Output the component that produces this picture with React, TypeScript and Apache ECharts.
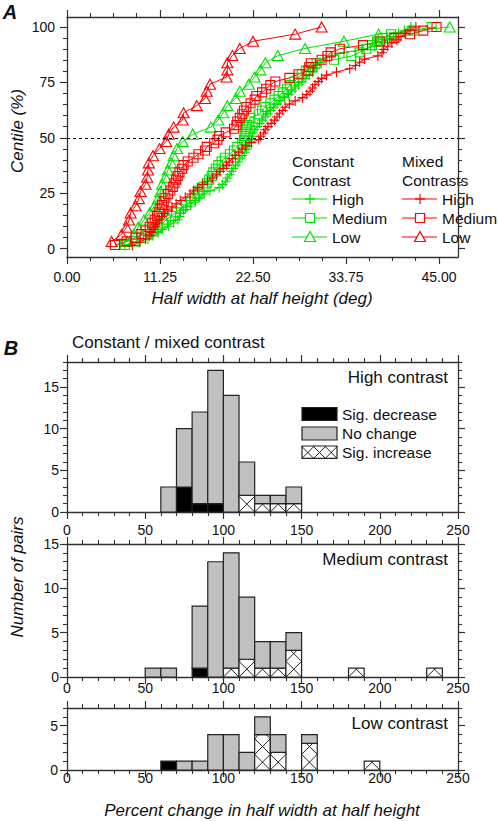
import React, { useEffect, useRef } from 'react';
import * as echarts from 'echarts';

// ---------- Panel A: half width at half height (deg), sorted, one value per cell ----------
const constantHighWidths = [
  7.0, 8.6, 9.8, 10.4, 11.0, 11.5, 12.3, 12.9, 13.4, 13.6,
  13.7, 14.1, 14.5, 15.0, 15.5, 16.0, 16.6, 17.3, 18.4, 18.8,
  19.2, 19.4, 19.7, 19.9, 20.1, 20.4, 20.7, 20.9, 21.2, 21.5,
  21.7, 21.9, 22.1, 22.3, 22.4, 22.5, 22.7, 23.0, 23.3, 23.6,
  24.0, 24.3, 24.6, 25.0, 25.4, 25.8, 26.3, 26.8, 27.2, 27.6,
  28.0, 28.4, 28.8, 29.3, 29.7, 30.0, 30.2, 30.6, 31.0, 32.0,
  33.5, 35.8, 37.2, 38.2, 38.8, 39.5, 40.1, 40.8, 41.6,
];
const constantMediumWidths = [
  7.0, 8.3, 9.0, 9.8, 10.5, 11.0, 11.6, 12.0, 12.6, 13.2,
  13.8, 14.4, 15.0, 15.4, 15.8, 16.0, 16.5, 16.9, 17.2, 17.5,
  17.7, 18.0, 18.3, 18.7, 19.1, 19.7, 20.2, 20.6, 21.2, 21.4,
  21.5, 21.6, 21.7, 21.8, 22.0, 22.2, 23.2, 23.6, 24.0, 24.6,
  25.1, 25.6, 26.1, 26.6, 27.0, 27.5, 28.0, 28.4, 28.9, 29.7,
  30.2, 32.3, 34.4, 35.4, 36.2, 36.9, 37.5, 38.2, 39.2, 41.8, 44.1,
];
const constantLowWidths = [
  7.3, 8.1, 8.6, 9.3, 10.0, 10.6, 11.0, 11.3, 11.5, 11.9,
  12.2, 12.6, 12.9, 13.3, 14.0, 15.2, 17.4, 18.3, 18.9, 19.4,
  20.4, 20.9, 22.0, 22.7, 23.4, 24.0, 25.5, 28.8, 33.5, 37.7, 46.3,
];
const mixedHighWidths = [
  7.9, 8.8, 9.5, 10.0, 10.2, 10.4, 10.7, 10.9, 11.2, 11.5,
  11.8, 12.2, 12.7, 13.2, 13.7, 14.3, 14.9, 15.3, 15.8, 16.4,
  17.0, 17.6, 18.1, 18.5, 18.9, 19.3, 19.6, 20.0, 20.4, 20.8,
  21.2, 21.6, 22.3, 23.2, 23.4, 23.8, 24.0, 24.3, 24.7, 25.1,
  25.4, 25.7, 26.1, 26.4, 26.9, 27.6, 28.5, 29.0, 29.4, 29.7,
  30.0, 30.4, 30.8, 31.4, 32.6, 34.2, 34.9, 35.4, 36.0, 37.6,
  38.1, 38.3, 38.8, 39.3, 39.9, 40.4, 40.9, 41.5, 42.2,
];
const mixedMediumWidths = [
  5.8, 7.2, 8.3, 9.0, 9.5, 10.0, 10.3, 10.6, 10.9, 11.1,
  11.3, 11.5, 11.7, 11.9, 12.2, 12.5, 12.8, 13.0, 13.2, 13.4,
  13.6, 13.9, 14.1, 14.6, 15.3, 15.9, 16.7, 16.9, 17.8, 18.2,
  18.4, 19.2, 20.2, 20.5, 20.6, 20.9, 21.2, 21.4, 21.7, 22.2,
  22.7, 22.9, 23.6, 24.1, 24.6, 25.2, 26.9, 28.0, 29.2, 29.3,
  29.5, 30.8, 31.5, 31.9, 33.0, 35.8, 37.9, 39.6, 41.5, 43.1, 44.7,
];
const mixedLowWidths = [
  5.4, 6.6, 7.2, 7.5, 7.7, 8.3, 8.7, 8.9, 9.5, 9.7,
  9.8, 9.9, 10.4, 11.2, 12.0, 12.3, 12.9, 14.0, 14.1, 15.7,
  16.7, 16.9, 17.3, 19.3, 19.4, 19.4, 20.0, 20.9, 22.5, 27.6, 30.8,
];

const xTicksA = [0, 11.25, 22.5, 33.75, 45];
const yTicksA = [0, 25, 50, 75, 100];
const referenceCentile = 50;

// ---------- Panel B: histograms (bin start, totals, sig. decrease, sig. increase) ----------
const BIN = 10;
const highStarts = [60, 70, 80, 90, 100, 110, 120, 130, 140];
const highTotals = [3, 10, 12, 17, 14, 6, 2, 2, 3];
const highDecrease = [0, 3, 1, 1, 0, 0, 0, 0, 0];
const highIncrease = [0, 0, 0, 0, 0, 2, 1, 1, 1];

const mediumStarts = [50, 60, 80, 90, 100, 110, 120, 130, 140, 180, 230];
const mediumTotals = [1, 1, 8, 13, 14, 9, 4, 4, 5, 1, 1];
const mediumDecrease = [0, 0, 1, 0, 0, 0, 0, 0, 0, 0, 0];
const mediumIncrease = [0, 0, 0, 0, 1, 2, 1, 1, 3, 1, 1];

const lowStarts = [60, 70, 80, 90, 100, 110, 120, 130, 150, 190];
const lowTotals = [1, 1, 1, 4, 4, 2, 6, 4, 4, 1];
const lowDecrease = [1, 0, 0, 0, 0, 0, 0, 0, 0, 0];
const lowIncrease = [0, 0, 0, 0, 0, 0, 4, 2, 3, 1];

const xTicksB = [0, 50, 100, 150, 200, 250];
const yTicksB = [0, 5, 10, 15];

// ---------- styling ----------
const FONT = '"Liberation Sans", Arial, Helvetica, sans-serif';
const AXIS = '#333';
const TEXT = '#111';
const GREEN = '#00e000';
const RED = '#ff0000';
const GRAY = '#c0c0c0';
const PLUS = 'path://M0,5L10,5M5,0L5,10';

function minorValues(step: number, max: number, majorEvery: number, min = 0) {
  const out: number[] = [];
  for (let i = Math.ceil(min / step); i * step <= max + 1e-9; i++) {
    if (i % majorEvery !== 0) out.push(+(i * step).toFixed(4));
  }
  return out;
}

function makeAxes(
  dim: 'x' | 'y',
  grid: number,
  min: number,
  max: number,
  major: number[],
  minor: number[],
  margin: number,
  fmt: (v: number) => string
) {
  const base = { type: 'value', gridIndex: grid, min, max, splitLine: { show: false }, silent: true };
  const positions = dim === 'x' ? ['bottom', 'top'] : ['left', 'right'];
  const out: any[] = [];
  positions.forEach((pos, pi) => {
    out.push({
      ...base,
      position: pos,
      axisLine: { show: true, onZero: false, lineStyle: { color: AXIS, width: 1.3 } },
      axisTick: { show: true, inside: false, length: 7, customValues: major, lineStyle: { color: AXIS, width: 1.2 } },
      axisLabel:
        pi === 0
          ? { show: true, customValues: major, margin, formatter: fmt, fontSize: 14, fontFamily: FONT, color: TEXT }
          : { show: false },
    });
    out.push({
      ...base,
      position: pos,
      axisLine: { show: false, onZero: false },
      axisTick: { show: true, inside: false, length: 4, customValues: minor, lineStyle: { color: AXIS, width: 1.1 } },
      axisLabel: { show: false },
    });
  });
  return out;
}

function cdf(widths: number[]) {
  return widths.map((w, i) => [w, ((i + 1) / widths.length) * 100]);
}

function histData(starts: number[], totals: number[], dec: number[], inc: number[]) {
  const d: number[][] = [];
  starts.forEach((s, i) => {
    if (dec[i]) d.push([s, s + BIN, 0, dec[i], 0]);
    if (inc[i]) d.push([s, s + BIN, dec[i], dec[i] + inc[i], 1]);
    if (totals[i] > dec[i] + inc[i]) d.push([s, s + BIN, dec[i] + inc[i], totals[i], 2]);
  });
  return d;
}

function hatch(x: number, y: number, w: number, h: number, p: number) {
  const segs: number[][] = [];
  const yb = y + h;
  for (let c = -Math.ceil(w / p) * p; c <= h + 1e-6; c += p) {
    const u0 = Math.max(0, -c);
    const u1 = Math.min(w, h - c);
    if (u1 - u0 > 0.5) segs.push([x + u0, yb - (u0 + c), x + u1, yb - (u1 + c)]);
  }
  for (let c = 0; c <= w + h + 1e-6; c += p) {
    const u0 = Math.max(0, c - h);
    const u1 = Math.min(w, c);
    if (u1 - u0 > 0.5) segs.push([x + u0, yb - (c - u0), x + u1, yb - (c - u1)]);
  }
  return segs;
}

function renderBar(params: any, api: any) {
  const x0 = api.value(0);
  const x1 = api.value(1);
  const y0 = api.value(2);
  const y1 = api.value(3);
  const kind = api.value(4);
  const p0 = api.coord([x0, y1]);
  const p1 = api.coord([x1, y0]);
  const x = p0[0];
  const y = p0[1];
  const w = p1[0] - p0[0];
  const h = p1[1] - p0[1];
  const children: any[] = [
    {
      type: 'rect',
      shape: { x, y, width: w, height: h },
      style: { fill: kind === 0 ? '#000' : kind === 1 ? '#fff' : GRAY, stroke: '#222', lineWidth: 1.2 },
    },
  ];
  if (kind === 1) {
    hatch(x, y, w, h, w).forEach((s) =>
      children.push({
        type: 'line',
        shape: { x1: s[0], y1: s[1], x2: s[2], y2: s[3] },
        style: { stroke: '#222', lineWidth: 1 },
      })
    );
  }
  return { type: 'group', children };
}

function txt(text: string, x: number, y: number, size: number, align = 'left', extra: any = {}) {
  return {
    type: 'text',
    x,
    y,
    silent: true,
    ...extra,
    style: {
      text,
      fill: TEXT,
      font: `${extra.fontStyle || ''} ${extra.fontWeight || ''} ${size}px ${FONT}`,
      align,
      verticalAlign: 'middle',
      textAlign: align,
      textVerticalAlign: 'middle',
    },
  };
}

function legendItem(kind: 'plus' | 'rect' | 'tri', color: string, x0: number, y: number, label: string) {
  const els: any[] = [];
  const cx = x0 + 18;
  els.push({ type: 'line', shape: { x1: x0, y1: y, x2: x0 + 35, y2: y }, style: { stroke: color, lineWidth: 1 } });
  if (kind === 'plus') {
    els.push({ type: 'line', shape: { x1: cx - 5, y1: y, x2: cx + 5, y2: y }, style: { stroke: color, lineWidth: 1.2 } });
    els.push({ type: 'line', shape: { x1: cx, y1: y - 5, x2: cx, y2: y + 5 }, style: { stroke: color, lineWidth: 1.2 } });
  } else if (kind === 'rect') {
    els.push({ type: 'rect', shape: { x: cx - 4.5, y: y - 4.5, width: 9, height: 9 }, style: { fill: '#fff', stroke: color, lineWidth: 1.2 } });
  } else {
    els.push({
      type: 'polygon',
      shape: { points: [[cx - 5.5, y + 4.5], [cx + 5.5, y + 4.5], [cx, y - 5.5]] },
      style: { fill: '#fff', stroke: color, lineWidth: 1.2 },
    });
  }
  els.push(txt(label, x0 + 40, y, 15.5));
  return els;
}

export default function App() {
  const ref = useRef<HTMLDivElement>(null);

  useEffect(() => {
    if (!ref.current) return;
    const chart = echarts.init(ref.current, null, { renderer: 'svg' });

    const grids = [
      { left: 67, top: 17, width: 391, height: 240 },
      { left: 67, top: 362, width: 391, height: 150 },
      { left: 67, top: 544, width: 391, height: 133 },
      { left: 67, top: 708, width: 391, height: 62 },
    ];

    const fmtA = (v: number) => v.toFixed(2);
    const fmtInt = (v: number) => String(v);
    const histMinorX = minorValues(10, 250, 5);

    const xAxis = [
      ...makeAxes('x', 0, 0, 47.3, xTicksA, minorValues(2.8125, 47.3, 4), 13, fmtA),
      ...makeAxes('x', 1, 0, 250, xTicksB, histMinorX, 11, fmtInt),
      ...makeAxes('x', 2, 0, 250, xTicksB, histMinorX, 4, fmtInt),
      ...makeAxes('x', 3, 0, 250, xTicksB, histMinorX, 1, fmtInt),
    ];
    const yAxis = [
      ...makeAxes('y', 0, -3.75, 104.5, yTicksA, minorValues(5, 104.5, 5), 12, fmtInt),
      ...makeAxes('y', 1, 0, 18, yTicksB, minorValues(1, 18, 5), 8, fmtInt),
      ...makeAxes('y', 2, 0, 15, yTicksB, minorValues(1, 15, 5), 8, fmtInt),
      ...makeAxes('y', 3, 0, 7, [0, 5], minorValues(1, 7, 5), 9, fmtInt),
    ];

    const lineSeries = (name: string, widths: number[], color: string, symbol: string, size: any, extra: any = {}) => ({
      name,
      type: 'line',
      xAxisIndex: 0,
      yAxisIndex: 0,
      data: cdf(widths),
      symbol,
      symbolSize: size,
      showSymbol: true,
      lineStyle: { color, width: 1 },
      itemStyle: { color: 'transparent', borderColor: color, borderWidth: 1.1 },
      emphasis: { disabled: true },
      ...extra,
    });

    const histSeries = (gi: number, data: number[][]) => ({
      type: 'custom',
      xAxisIndex: gi * 4,
      yAxisIndex: gi * 4,
      data,
      encode: { x: [0, 1], y: [2, 3] },
      renderItem: renderBar,
      silent: true,
    });

    const legendHatch = hatch(302, 446, 35, 12.3, 35 / 3).map((s) => ({
      type: 'line',
      shape: { x1: s[0], y1: s[1], x2: s[2], y2: s[3] },
      style: { stroke: '#222', lineWidth: 1 },
    }));

    const graphic: any[] = [
      txt('A', 10, 12, 20, 'center', { fontStyle: 'italic', fontWeight: 'bold' }),
      txt('B', 11, 348, 20, 'center', { fontStyle: 'italic', fontWeight: 'bold' }),
      txt('Centile (%)', 17, 131, 17, 'center', { fontStyle: 'italic', rotation: Math.PI / 2 }),
      txt('Half width at half height (deg)', 262, 298, 17, 'center', { fontStyle: 'italic' }),
      txt('Constant / mixed contrast', 72, 342, 17, 'left'),
      txt('Number of pairs', 17, 577, 17, 'center', { fontStyle: 'italic', rotation: Math.PI / 2 }),
      txt('Percent change in half width at half height', 262, 810, 17, 'center', { fontStyle: 'italic' }),
      txt('High contrast', 448, 377, 17, 'right'),
      txt('Medium contrast', 448, 559, 17, 'right'),
      txt('Low contrast', 448, 723, 17, 'right'),
      // Panel A legend
      txt('Constant', 292, 161, 15.5, 'left'),
      txt('Contrast', 292, 180, 15.5, 'left'),
      txt('Mixed', 402, 161, 15.5, 'left'),
      txt('Contrasts', 402, 180, 15.5, 'left'),
      ...legendItem('plus', GREEN, 292, 199, 'High'),
      ...legendItem('rect', GREEN, 292, 218, 'Medium'),
      ...legendItem('tri', GREEN, 292, 237, 'Low'),
      ...legendItem('plus', RED, 402, 199, 'High'),
      ...legendItem('rect', RED, 402, 218, 'Medium'),
      ...legendItem('tri', RED, 402, 237, 'Low'),
      // Panel B legend
      { type: 'rect', shape: { x: 302, y: 407.5, width: 35, height: 13 }, style: { fill: '#000', stroke: '#222', lineWidth: 1.2 } },
      { type: 'rect', shape: { x: 302, y: 427, width: 35, height: 13 }, style: { fill: GRAY, stroke: '#222', lineWidth: 1.2 } },
      { type: 'rect', shape: { x: 302, y: 446, width: 35, height: 12.3 }, style: { fill: '#fff', stroke: '#222', lineWidth: 1.2 } },
      ...legendHatch,
      txt('Sig. decrease', 342, 414, 15.5, 'left'),
      txt('No change', 342, 433.5, 15.5, 'left'),
      txt('Sig. increase', 342, 452.5, 15.5, 'left'),
    ];

    chart.setOption({
      animation: false,
      grid: grids,
      xAxis,
      yAxis,
      series: [
        lineSeries('Constant High', constantHighWidths, GREEN, PLUS, 10),
        lineSeries('Constant Medium', constantMediumWidths, GREEN, 'rect', 9),
        lineSeries('Constant Low', constantLowWidths, GREEN, 'triangle', [11, 10]),
        lineSeries('Mixed High', mixedHighWidths, RED, PLUS, 10),
        lineSeries('Mixed Medium', mixedMediumWidths, RED, 'rect', 9),
        lineSeries('Mixed Low', mixedLowWidths, RED, 'triangle', [11, 10], {
          markLine: {
            silent: true,
            symbol: ['none', 'none'],
            label: { show: false },
            lineStyle: { color: '#000', type: [3, 3], width: 1.2 },
            data: [{ yAxis: referenceCentile }],
          },
        }),
        histSeries(1, histData(highStarts, highTotals, highDecrease, highIncrease)),
        histSeries(2, histData(mediumStarts, mediumTotals, mediumDecrease, mediumIncrease)),
        histSeries(3, histData(lowStarts, lowTotals, lowDecrease, lowIncrease)),
      ],
      graphic,
    });

    return () => chart.dispose();
  }, []);

  return (
    <div
      ref={ref}
      style={{ position: 'absolute', left: 0, top: 0, width: 498, height: 821, background: '#fff' }}
    />
  );
}
